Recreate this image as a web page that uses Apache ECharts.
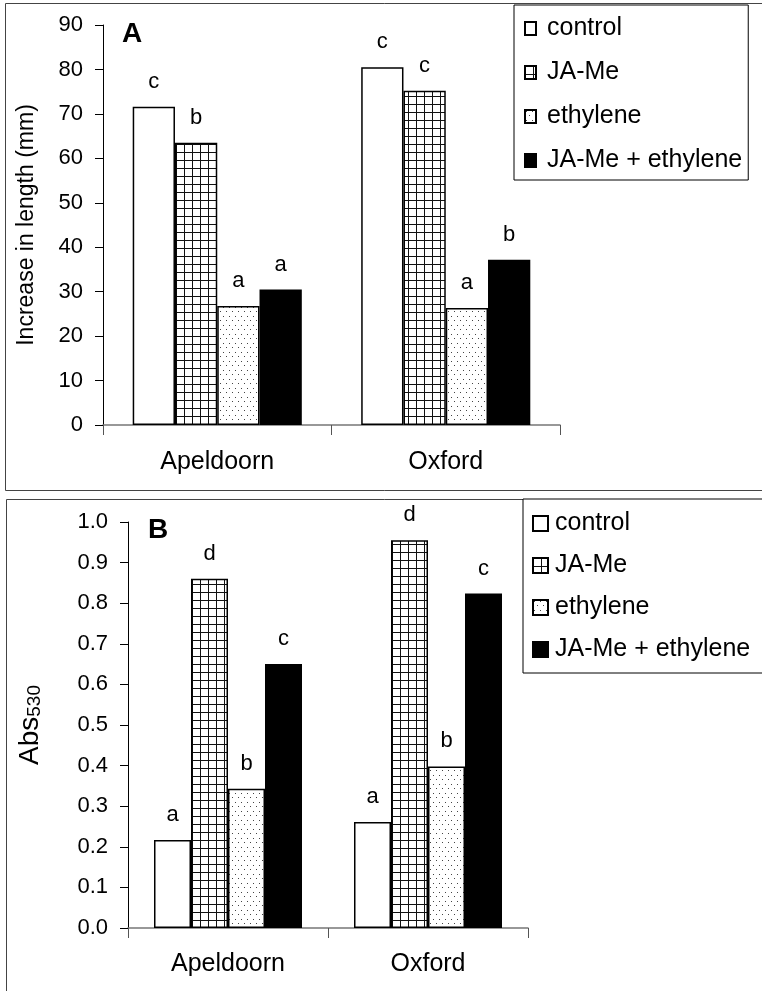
<!DOCTYPE html>
<html>
<head>
<meta charset="utf-8">
<script src="https://cdn.jsdelivr.net/npm/echarts@6/dist/echarts.min.js"></script>
<style>
html,body{margin:0;padding:0;background:#fff;}
#chart{width:762px;height:991px;}
</style>
</head>
<body>
<div id="chart"></div>
<script>
// ---- data ----
const categories = ['Apeldoorn', 'Oxford'];
const seriesNames = ['control', 'JA-Me', 'ethylene', 'JA-Me + ethylene'];

// Panel A: Increase in length (mm)
const lengthControl = [71.6, 80.5];
const lengthJAMe = [63.5, 75.2];
const lengthEthylene = [26.8, 26.3];
const lengthJAMeEthylene = [30.5, 37.2];
const lettersLengthControl = ['c', 'c'];
const lettersLengthJAMe = ['b', 'c'];
const lettersLengthEthylene = ['a', 'a'];
const lettersLengthJAMeEthylene = ['a', 'b'];

// Panel B: Abs530
const absControl = [0.217, 0.261];
const absJAMe = [0.86, 0.955];
const absEthylene = [0.343, 0.398];
const absJAMeEthylene = [0.65, 0.824];
const lettersAbsControl = ['a', 'a'];
const lettersAbsJAMe = ['d', 'd'];
const lettersAbsEthylene = ['b', 'b'];
const lettersAbsJAMeEthylene = ['c', 'c'];

const panelTitles = ['A', 'B'];
const yNameA = 'Increase in length (mm)';

// ---- patterns ----
function gridPattern() {
  const c = document.createElement('canvas');
  c.width = 8; c.height = 8;
  const g = c.getContext('2d');
  g.fillStyle = '#fff'; g.fillRect(0, 0, 8, 8);
  g.fillStyle = '#111';
  g.fillRect(0, 0, 8, 1);
  g.fillRect(0, 0, 1, 8);
  return c;
}
function dotPattern() {
  const c = document.createElement('canvas');
  c.width = 6; c.height = 9;
  const g = c.getContext('2d');
  g.fillStyle = '#fff'; g.fillRect(0, 0, 6, 9);
  g.fillStyle = '#444';
  g.fillRect(1, 1, 1, 1);
  g.fillRect(4, 5, 1, 1);
  return c;
}
const fills = [
  '#ffffff',
  { image: gridPattern(), repeat: 'repeat' },
  { image: dotPattern(), repeat: 'repeat' },
  '#000000'
];

const FONT = "'Liberation Sans', Arial, sans-serif";

const dataA = [lengthControl, lengthJAMe, lengthEthylene, lengthJAMeEthylene];
const lettersA = [lettersLengthControl, lettersLengthJAMe, lettersLengthEthylene, lettersLengthJAMeEthylene];
const dataB = [absControl, absJAMe, absEthylene, absJAMeEthylene];
const lettersB = [lettersAbsControl, lettersAbsJAMe, lettersAbsEthylene, lettersAbsJAMeEthylene];

function makeSeries(data, letters, gi) {
  return seriesNames.map((name, i) => ({
    name: name,
    type: 'bar',
    xAxisIndex: gi,
    yAxisIndex: gi,
    data: data[i],
    barGap: '0%',
    barCategoryGap: '26%',
    itemStyle: { color: fills[i], borderColor: '#000', borderWidth: 1.5 },
    emphasis: { disabled: true },
    label: {
      show: true,
      position: 'top',
      distance: 14,
      fontFamily: FONT,
      fontSize: 22,
      color: '#000',
      formatter: p => letters[i][p.dataIndex]
    }
  }));
}

function legendCfg(left, top, padding, gap, iw, ih, textPad) {
  return {
    orient: 'vertical',
    left: left, top: top,
    padding: padding,
    itemGap: gap,
    itemWidth: iw, itemHeight: ih,
    icon: 'rect',
    borderColor: '#000', borderWidth: 1,
    backgroundColor: '#fff',
    selectedMode: false,
    data: seriesNames,
    textStyle: { fontFamily: FONT, fontSize: 25, color: '#000', lineHeight: 24, padding: [0, 0, 0, textPad] }
  };
}

const chart = echarts.init(document.getElementById('chart'), null, { renderer: 'canvas' });
chart.setOption({
  animation: false,
  backgroundColor: '#fff',
  textStyle: { fontFamily: FONT },
  grid: [
    { left: 103, top: 25, right: 202, bottom: 566 },
    { left: 128, top: 522, right: 234, bottom: 63 }
  ],
  xAxis: [0, 1].map(gi => ({
    gridIndex: gi,
    type: 'category',
    data: categories,
    axisLine: { lineStyle: { color: '#777', width: 1.5 } },
    axisTick: { show: true, length: 10, lineStyle: { color: '#555' } },
    axisLabel: { fontFamily: FONT, fontSize: 25, color: '#000', margin: gi === 0 ? 25 : 24 },
    splitLine: { show: false }
  })),
  yAxis: [
    {
      gridIndex: 0, type: 'value', min: 0, max: 90, interval: 10,
      axisLine: { show: true, lineStyle: { color: '#000', width: 1 } },
      axisTick: { show: true, length: 8, lineStyle: { color: '#000' } },
      splitLine: { show: false },
      axisLabel: { fontFamily: FONT, fontSize: 22, color: '#000', margin: 20 },
      name: yNameA, nameLocation: 'middle', nameGap: 65, nameRotate: 90,
      nameTextStyle: { fontFamily: FONT, fontSize: 23, color: '#000' }
    },
    {
      gridIndex: 1, type: 'value', min: 0, max: 1, interval: 0.1,
      axisLine: { show: true, lineStyle: { color: '#000', width: 1 } },
      axisTick: { show: true, length: 8, lineStyle: { color: '#000' } },
      splitLine: { show: false },
      axisLabel: { fontFamily: FONT, fontSize: 22, color: '#000', margin: 20, formatter: v => v.toFixed(1) },
      name: '{a|Abs}{s|530}', nameLocation: 'middle', nameGap: 84, nameRotate: 90,
      nameTextStyle: {
        fontFamily: FONT, color: '#000',
        rich: {
          a: { fontFamily: FONT, fontSize: 28, color: '#000', verticalAlign: 'bottom' },
          s: { fontFamily: FONT, fontSize: 19, color: '#000', verticalAlign: 'bottom' }
        }
      }
    }
  ],
  legend: [
    legendCfg(514, 5, [11, 6, 7, 10], 19, 11, 13, 6),
    legendCfg(523, 499, [12, 30, 11, 9], 17, 15, 15, 2)
  ],
  graphic: [
    { type: 'rect', shape: { x: 5.5, y: 3.5, width: 800, height: 487 }, style: { fill: 'none', stroke: '#444', lineWidth: 1 }, z: -1 },
    { type: 'rect', shape: { x: 6.5, y: 499.5, width: 800, height: 600 }, style: { fill: 'none', stroke: '#444', lineWidth: 1 }, z: -1 },
    { type: 'text', left: 122, top: 20, style: { text: panelTitles[0], font: "bold 28px 'Liberation Sans', Arial, sans-serif", fill: '#000' } },
    { type: 'text', left: 148, top: 516, style: { text: panelTitles[1], font: "bold 28px 'Liberation Sans', Arial, sans-serif", fill: '#000' } }
  ],
  series: makeSeries(dataA, lettersA, 0).concat(makeSeries(dataB, lettersB, 1))
});
</script>
</body>
</html>
